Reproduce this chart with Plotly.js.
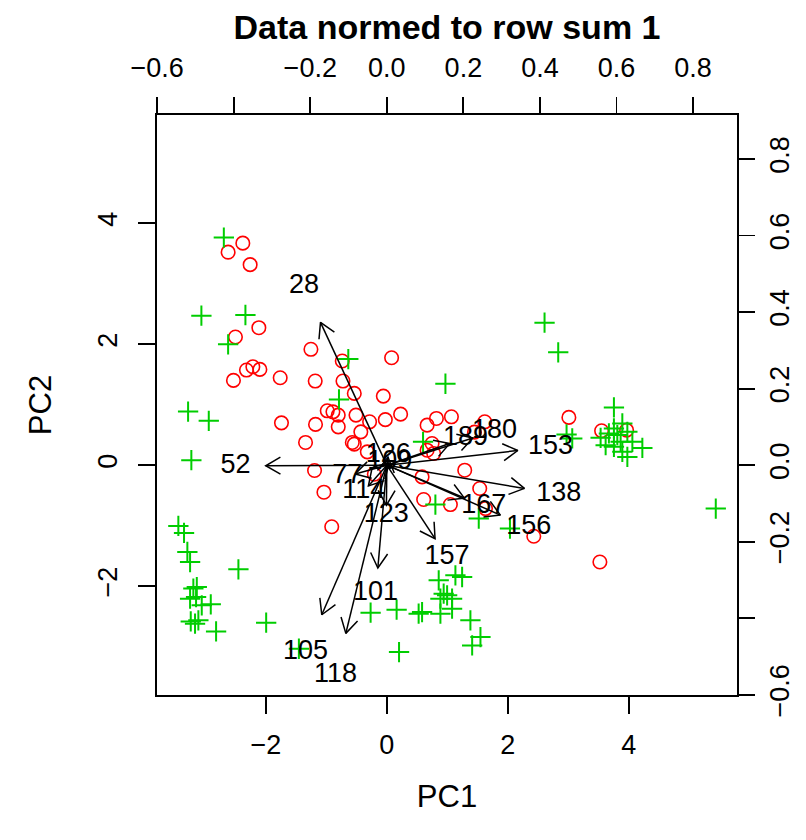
<!DOCTYPE html>
<html>
<head>
<meta charset="utf-8">
<script src="https://cdn.plot.ly/plotly-3.0.1.min.js"></script>
<style>html,body{margin:0;padding:0;background:#fff;}#chart{width:806px;height:840px;}</style>
</head>
<body>
<div id="chart"></div>
<script>
// ---- Scores (PC1, PC2), group 1: red circles ----
const group1PC1 = [-2.381,-2.624,-2.260,-2.116,-2.503,-1.255,0.079,-0.737,-2.215,-2.321,-2.099,-2.536,-1.763,-1.184,-0.725,-0.538,-0.058,-0.985,-0.891,-0.803,-0.510,0.228,-1.742,-1.179,-0.803,-0.285,-0.025,-0.430,-1.344,-0.571,-0.538,-0.323,-1.195,-1.040,-0.911,-0.207,0.666,0.820,1.068,1.619,0.748,0.775,0.666,1.288,0.583,1.536,0.609,1.051,1.631,2.430,3.010,3.551,3.965,3.523,1.449];
const group1PC2 = [3.671,3.522,3.316,2.273,2.119,1.916,1.776,1.722,1.627,1.573,1.584,1.402,1.445,1.391,1.391,1.187,1.142,0.899,0.882,0.828,0.828,0.844,0.700,0.674,0.634,0.717,0.753,0.551,0.376,0.376,0.348,0.220,-0.088,-0.447,-1.018,-0.149,0.662,0.773,0.800,0.717,0.359,0.194,0.248,-0.083,-0.194,-0.386,-0.568,-0.651,-0.717,-1.175,0.790,0.568,0.579,-1.601,0.546];
// ---- Scores (PC1, PC2), group 2: green crosses ----
const group2PC1 = [-2.695,-3.066,-2.338,-2.624,-0.637,-0.791,2.608,2.834,0.969,3.755,-3.286,-2.944,-3.232,-3.447,-3.353,-3.298,-3.253,-2.454,-3.142,-3.199,-3.253,-3.154,-3.060,-2.911,-3.242,-3.171,-3.116,-2.823,-1.995,-1.454,-0.268,0.162,0.202,0.599,0.803,1.520,2.036,2.972,3.066,3.535,3.755,3.894,3.672,3.811,3.977,3.618,3.755,3.866,4.060,3.894,3.977,4.225,5.439,0.858,1.134,1.245,0.940,0.997,0.886,1.079,0.583,0.526,0.886,1.079,1.382,1.548,1.411];
const group2PC2 = [3.763,2.472,2.483,1.998,1.755,1.088,2.356,1.866,1.346,0.955,0.886,0.733,0.083,-1.005,-1.121,-1.435,-1.601,-1.722,-2.015,-2.041,-2.207,-2.180,-2.318,-2.301,-2.583,-2.621,-2.566,-2.748,-2.604,-3.035,-2.439,-2.389,-3.091,0.386,-0.651,-0.882,-1.048,0.508,0.442,0.452,0.608,0.690,0.525,0.497,0.551,0.331,0.303,0.386,0.386,0.220,0.137,0.286,-0.717,-1.904,-1.821,-1.849,-2.124,-2.152,-2.207,-2.207,-2.429,-2.455,-2.455,-2.373,-2.566,-2.843,-2.980];
// ---- Loadings (variables), in the top/right axis units ----
const varLabels = ["28","52","77","101","105","114","118","123","126","109","138","153","156","157","167","180","189"];
const loadX = [-0.2166,-0.3955,-0.1033,-0.0293,-0.2124,-0.0602,-0.1339,-0.0013,0.0039,0.0078,0.4494,0.4277,0.3709,0.1575,0.2532,0.2812,0.2054];
const loadY = [0.4664,-0.0018,-0.0288,-0.3356,-0.4884,-0.0680,-0.5493,-0.1308,0.0262,0.0078,-0.0759,0.0479,-0.1630,-0.2399,-0.1073,0.0889,0.0706];
// ---- Axis ticks ----
const pcTicks = [-2, 0, 2, 4];
const loadTicks = [-0.6, -0.4, -0.2, 0.0, 0.2, 0.4, 0.6, 0.8];
const loadTickText = ["\u22120.6", "", "\u22120.2", "0.0", "0.2", "0.4", "0.6", "0.8"];

const lim = [-3.80, 5.79];
const ratio = 0.158;              // loadings scale relative to scores
const lim2 = lim.map(v => v * ratio);
const plotPx = 580;
const pxPerUnit2 = plotPx / (lim2[1] - lim2[0]);
const headLen = 17 / pxPerUnit2;  // arrow head length in loading units
const headAng = Math.PI / 6;

// arrows: shaft to 0.8 * loading, open head
const ax = [], ay = [];
for (let i = 0; i < loadX.length; i++) {
  const tx = 0.8 * loadX[i], ty = 0.8 * loadY[i];
  const th = Math.atan2(ty, tx);
  ax.push(0, tx, null);
  ay.push(0, ty, null);
  ax.push(tx - headLen * Math.cos(th + headAng), tx, tx - headLen * Math.cos(th - headAng), null);
  ay.push(ty - headLen * Math.sin(th + headAng), ty, ty - headLen * Math.sin(th - headAng), null);
}

const FONT = "Liberation Sans, Arial, Helvetica, sans-serif";
const fmt = v => v < 0 ? "\u2212" + (-v) : String(v);

const traces = [
  { type: "scatter", mode: "markers", x: group1PC1, y: group1PC2, xaxis: "x", yaxis: "y",
    marker: { symbol: "circle-open", size: 13.5, color: "#FF0000", line: { width: 1.6, color: "#FF0000" } },
    hoverinfo: "x+y", showlegend: false },
  { type: "scatter", mode: "markers", x: group2PC1, y: group2PC2, xaxis: "x", yaxis: "y",
    marker: { symbol: "cross-thin-open", size: 14.5, color: "#00CD00", line: { width: 2, color: "#00CD00" } },
    hoverinfo: "x+y", showlegend: false },
  { type: "scatter", mode: "lines", x: ax, y: ay, xaxis: "x2", yaxis: "y2",
    line: { color: "#000000", width: 1.5 }, hoverinfo: "skip", showlegend: false, connectgaps: false },
  { type: "scatter", mode: "text", x: loadX, y: loadY, text: varLabels, xaxis: "x2", yaxis: "y2",
    textposition: "middle center", textfont: { family: FONT, size: 27, color: "#000000" },
    hoverinfo: "text", showlegend: false }
];

const tickFont = { family: FONT, size: 27, color: "#000000" };
const baseAxis = {
  ticks: "outside", ticklen: 17, tickwidth: 1.8, tickcolor: "#000",
  showgrid: false, zeroline: false, tickfont: tickFont, fixedrange: true
};

const layout = {
  width: 806, height: 840,
  margin: { l: 157, r: 69, t: 115, b: 145, pad: 0 },
  paper_bgcolor: "#fff", plot_bgcolor: "#fff",
  font: { family: FONT, color: "#000" },
  title: { text: "<b>Data normed to row sum 1</b>", font: { family: FONT, size: 34, color: "#000" },
           x: 0.5, xref: "paper", y: 1 - 27 / 840, yref: "container", yanchor: "middle" },
  xaxis: Object.assign({}, baseAxis, {
    range: lim, tickmode: "array", tickvals: pcTicks, ticktext: pcTicks.map(fmt),
    showline: true, linecolor: "#000", linewidth: 2, mirror: true,
    title: { text: "PC1", font: { family: FONT, size: 31, color: "#000" }, standoff: 26 },
    ticklabelstandoff: 8
  }),
  yaxis: Object.assign({}, baseAxis, {
    range: lim, tickmode: "array", tickvals: pcTicks, ticktext: pcTicks.map(fmt),
    tickangle: -90,
    showline: true, linecolor: "#000", linewidth: 2, mirror: true,
    title: { text: "PC2", font: { family: FONT, size: 31, color: "#000" }, standoff: 32 },
    ticklabelstandoff: 10
  }),
  xaxis2: Object.assign({}, baseAxis, {
    range: lim2, overlaying: "x", side: "top", anchor: "y",
    tickmode: "array", tickvals: loadTicks, ticktext: loadTickText,
    showline: false, ticklabelstandoff: 9
  }),
  yaxis2: Object.assign({}, baseAxis, {
    range: lim2, overlaying: "y", side: "right", anchor: "x",
    tickmode: "array", tickvals: loadTicks, ticktext: loadTickText, tickangle: -90,
    showline: false, ticklabelstandoff: 2
  }),
  showlegend: false
};

Plotly.newPlot("chart", traces, layout, { displayModeBar: false, staticPlot: true });
</script>
</body>
</html>
